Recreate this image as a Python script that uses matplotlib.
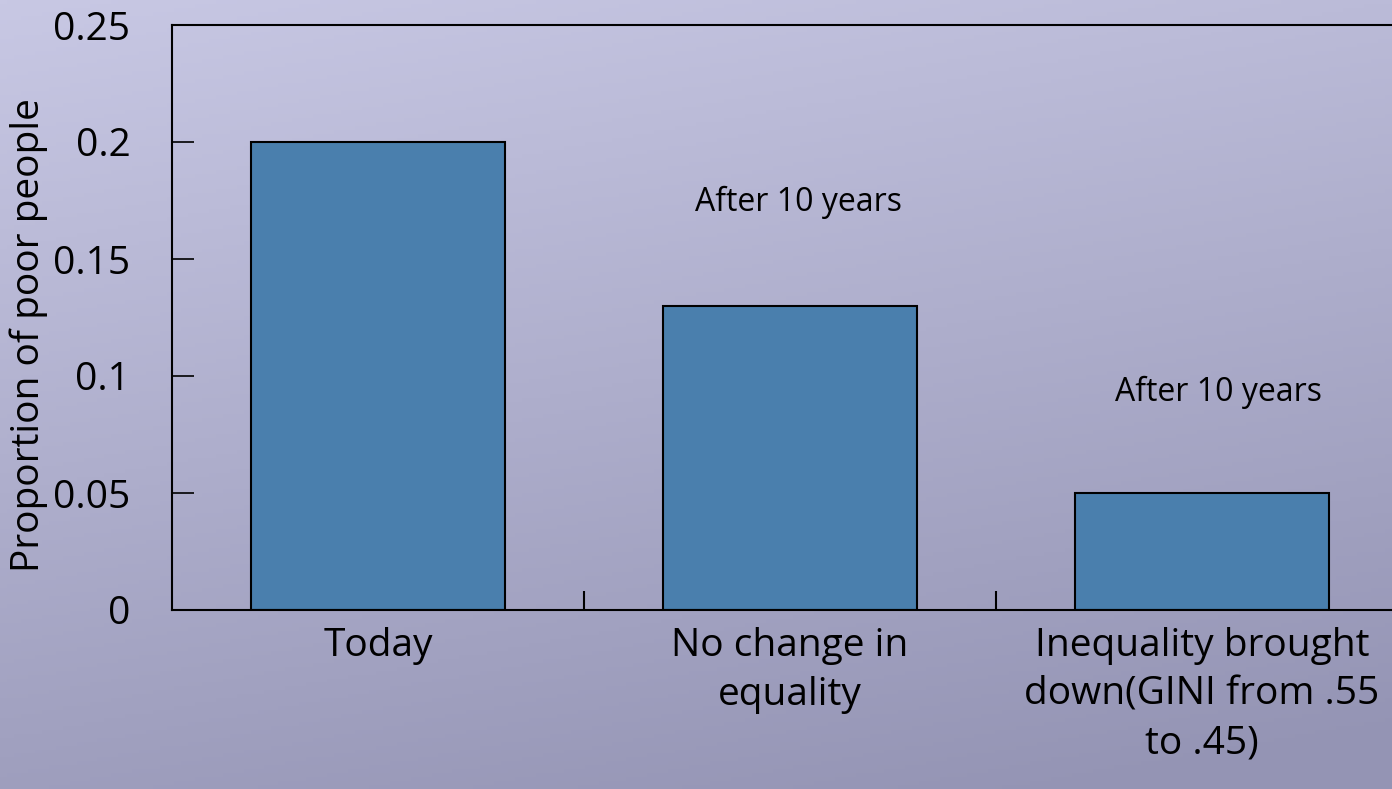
import numpy as np
import matplotlib.pyplot as plt

categories = ["Today", "No change in\nequality", "Inequality brought\ndown(GINI from .55\nto .45)"]
proportions = [0.2, 0.13, 0.05]
yticks = [0, 0.05, 0.1, 0.15, 0.2, 0.25]
ytick_labels = ["0", "0.05", "0.1", "0.15", "0.2", "0.25"]
notes = ["After 10 years", "After 10 years"]
note_pos = [(1.02, 0.174), (2.04, 0.093)]

plt.rcParams['font.family'] = ['Open Sans', 'DejaVu Sans']

fig = plt.figure(figsize=(13.92, 7.89), dpi=100)

# background gradient, light lavender at top going darker to the bottom/right
bg = fig.add_axes([0, 0, 1, 1], zorder=-10)
yy, xx = np.mgrid[0:1:200j, 0:1:200j]
top = np.array([200, 200, 228]) / 255
bot = np.array([148, 148, 180]) / 255
t = np.clip(0.8 * yy + 0.25 * xx, 0, 1)[..., None]
img = top * (1 - t) + bot * t
bg.imshow(img, aspect='auto', extent=[0, 1, 0, 1], origin='upper')
bg.axis('off')

ax = fig.add_axes([172 / 1392, 179 / 789, 1236 / 1392, 585 / 789])
ax.patch.set_alpha(0)
x = np.arange(len(categories))
ax.bar(x, proportions, width=0.617, color='#4a7fad', edgecolor='black', linewidth=1.5)

ax.set_xlim(-0.5, 2.5)
ax.set_ylim(0, 0.25)
ax.set_yticks(yticks)
ax.set_yticklabels(ytick_labels, fontsize=28)
ax.set_xticks(x)
ax.set_xticklabels(categories, fontsize=28, linespacing=1.38)
ax.tick_params(axis='x', length=0, pad=12)
ax.tick_params(axis='y', direction='in', length=16, width=1.2, pad=30)
ax.set_xticks([0.5, 1.5], minor=True)
ax.tick_params(axis='x', which='minor', direction='in', length=14, width=1.5)
for s in ax.spines.values():
    s.set_linewidth(1.5)

ax.set_ylabel("Proportion of poor people", fontsize=28)
ax.yaxis.set_label_coords(-0.1, 0.47)

for txt, (nx, ny) in zip(notes, note_pos):
    ax.text(nx, ny, txt, fontsize=23, ha='center', va='center')

fig.savefig("out.png", dpi=100)
